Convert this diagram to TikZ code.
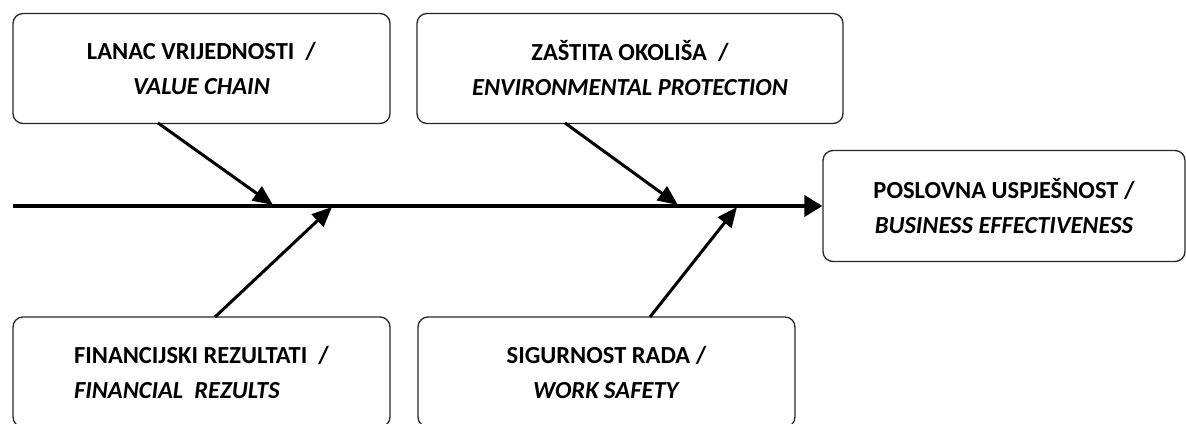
\documentclass[tikz,border=0pt]{standalone}
\usepackage{fontspec}
\setmainfont{Carlito}
\usetikzlibrary{arrows.meta}

\begin{document}
\begin{tikzpicture}[x=1pt,y=1pt,
    cause/.style={draw=black!85, line width=1.3pt, rounded corners=10pt, align=center,
        minimum width=377pt, minimum height=110pt, inner sep=0pt,
        font=\fontsize{24.5}{35}\selectfont\bfseries},
    branch/.style={line width=3pt, -{Triangle[length=20pt,width=17pt]}},
    spine/.style={line width=4pt, -{Triangle[length=18pt,width=21pt]}}]
    \useasboundingbox (0,0) rectangle (1186,423);

    \node[cause] at (201.5, 354.5) (vc) {LANAC VRIJEDNOSTI~ /\\ \textit{VALUE CHAIN}};
    \node[cause, minimum width=426pt] at (630, 354.5) (ep) {ZAŠTITA OKOLIŠA~ /\\ \textit{ENVIRONMENTAL PROTECTION}};
    \node[cause, align=left] at (201.5, 51) (fr) {FINANCIJSKI REZULTATI~ /\\ \textit{FINANCIAL~ REZULTS}};
    \node[cause] at (606.5, 51) (ws) {SIGURNOST RADA /\\ \textit{WORK SAFETY}};
    \node[cause, minimum width=362pt, minimum height=111pt] at (1004, 217) (be) {POSLOVNA USPJEŠNOST /\\ \textit{BUSINESS EFFECTIVENESS}};

    \coordinate (tail) at (13, 217);
    \coordinate (vc_out) at (158, 300);
    \coordinate (ep_out) at (565, 300);
    \coordinate (fr_out) at (215, 106);
    \coordinate (ws_out) at (650, 106);
    \coordinate (vc_in) at (273, 218);
    \coordinate (ep_in) at (678, 218);
    \coordinate (fr_in) at (332, 216);
    \coordinate (ws_in) at (737, 216);

    \draw[spine] (tail) -- (be);
    \draw[branch] (vc_out) -- (vc_in);
    \draw[branch] (ep_out) -- (ep_in);
    \draw[branch] (fr_out) -- (fr_in);
    \draw[branch] (ws_out) -- (ws_in);
\end{tikzpicture}
\end{document}
